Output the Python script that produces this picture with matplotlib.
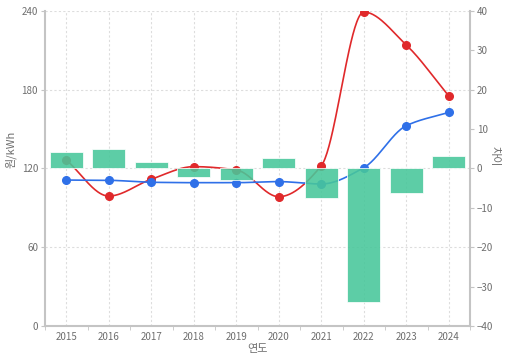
import numpy as np
import matplotlib
matplotlib.use("Agg")
import matplotlib.pyplot as plt

plt.rcParams['font.family'] = ['Noto Sans CJK KR', 'DejaVu Sans']

# data
years = ['2015', '2016', '2017', '2018', '2019', '2020', '2021', '2022', '2023', '2024']
red_vals = [126.5, 99.0, 111.8, 121.4, 118.9, 98.5, 122.1, 239.2, 214.1, 175.2]
blue_vals = [111.2, 111.0, 109.5, 109.2, 109.2, 110.0, 108.2, 120.6, 152.6, 162.8]
diff_vals = [4.3, 4.9, 1.6, -2.2, -2.9, 2.7, -7.4, -33.9, -6.3, 3.2]

RED = '#e0292b'
BLUE = '#2f70e8'
GREEN = '#47c79a'
GRID = '#dddddd'
AXIS = '#c4c4c4'
TXT = '#6e6e6e'


def pchip(x, y, xs):
    # monotone cubic interpolation (Fritsch-Carlson)
    x = np.asarray(x, float)
    y = np.asarray(y, float)
    h = np.diff(x)
    d = np.diff(y) / h
    m = np.zeros_like(y)
    for k in range(1, len(y) - 1):
        if d[k - 1] * d[k] > 0:
            w1 = 2 * h[k] + h[k - 1]
            w2 = h[k] + 2 * h[k - 1]
            m[k] = (w1 + w2) / (w1 / d[k - 1] + w2 / d[k])
    m[0] = d[0]
    m[-1] = d[-1]
    out = np.empty_like(xs)
    for i, xv in enumerate(xs):
        k = min(np.searchsorted(x, xv, side='right') - 1, len(x) - 2)
        t = (xv - x[k]) / h[k]
        h00 = 2 * t**3 - 3 * t**2 + 1
        h10 = t**3 - 2 * t**2 + t
        h01 = -2 * t**3 + 3 * t**2
        h11 = t**3 - t**2
        out[i] = h00 * y[k] + h10 * h[k] * m[k] + h01 * y[k + 1] + h11 * h[k] * m[k + 1]
    return out


x = np.arange(len(years))
xs = np.linspace(0, len(years) - 1, 400)

fig = plt.figure(figsize=(5.32, 3.58), dpi=100)
ax = fig.add_axes([0.0846, 0.0894, 0.7989, 0.8799])
ax2 = ax.twinx()

# lines on left axis
ax.plot(xs, pchip(x, red_vals, xs), color=RED, lw=1.2, zorder=3)
ax.plot(x, red_vals, 'o', color=RED, ms=5.5, zorder=4)
ax.plot(xs, pchip(x, blue_vals, xs), color=BLUE, lw=1.2, zorder=3)
ax.plot(x, blue_vals, 'o', color=BLUE, ms=5.5, zorder=4)

# bars on right axis (drawn above lines)
ax2.bar(x, diff_vals, width=0.78, color=GREEN, alpha=0.88,
        edgecolor='white', linewidth=0.6, zorder=2)

ax.set_xlim(-0.5, len(years) - 0.5)
ax.set_ylim(0, 240)
ax2.set_ylim(-40, 40)
ax.set_yticks([0, 60, 120, 180, 240])
ax2.set_yticks(range(-40, 41, 10))
ax.set_xticks(x)
ax.set_xticklabels(years)
ax.set_xticks(np.arange(-0.5, len(years), 1), minor=True)

ax.grid(True, axis='both', color=GRID, linestyle=(0, (2, 2)), linewidth=0.8)
ax.set_axisbelow(True)

for a in (ax, ax2):
    a.spines['top'].set_visible(False)
    for s in ('left', 'right', 'bottom'):
        a.spines[s].set_color(AXIS)
        a.spines[s].set_linewidth(1.5)
    a.tick_params(colors=TXT, labelsize=7, length=3, width=0.8, pad=2)
    a.tick_params(axis='both', color=AXIS)
ax.spines['right'].set_visible(False)
ax2.spines['left'].set_visible(False)
ax2.spines['bottom'].set_visible(False)
ax.tick_params(axis='x', which='major', length=0, pad=4)
ax.tick_params(axis='x', which='minor', length=3, color=AXIS)

ax.set_xlabel('연도', color=TXT, fontsize=8, labelpad=2)
ax.set_ylabel('원/kWh', color=TXT, fontsize=8)
ax.yaxis.set_label_coords(-0.068, 0.56)
ax2.set_ylabel('차이', color=TXT, fontsize=8, rotation=270)
ax2.yaxis.set_label_coords(1.07, 0.54)

fig.savefig('out.png', dpi=100)
